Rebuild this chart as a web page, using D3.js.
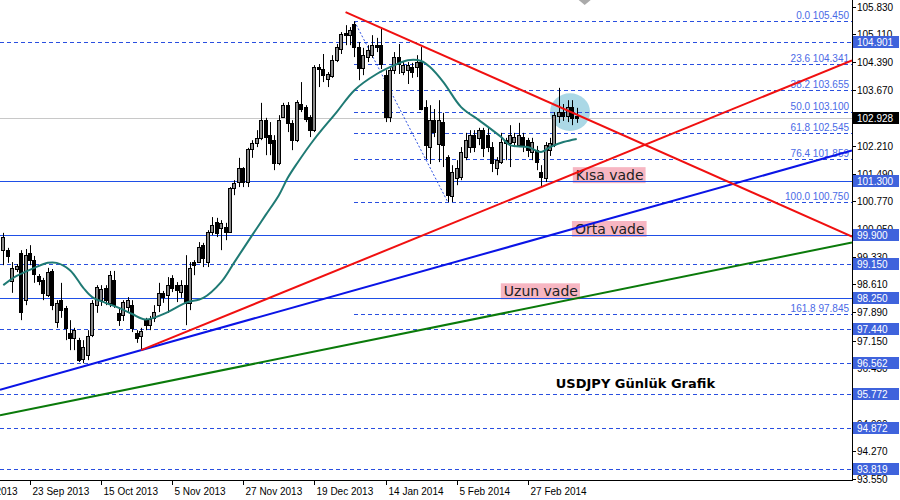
<!DOCTYPE html>
<html><head><meta charset="utf-8">
<script src="https://cdn.jsdelivr.net/npm/d3@7"></script>
<style>html,body{margin:0;padding:0;background:#fff;}svg{display:block;}</style>
</head><body><svg id="c" width="900" height="500"></svg>
<script>
// ---- DATA (USDJPY daily) ----
const opens = [99.50,99.50,98.70,99.01,99.43,98.20,99.43,99.24,98.83,98.72,
98.33,98.96,97.63,98.20,98.00,97.35,97.22,97.16,96.67,96.77,
97.29,98.07,98.20,98.52,98.13,98.72,97.87,97.81,98.02,98.07,
97.35,97.27,97.68,97.55,97.74,98.07,98.39,98.33,98.78,98.59,
98.41,98.59,98.13,99.19,99.19,99.63,99.19,99.97,100.23,100.08,
100.10,99.97,101.12,101.27,101.64,101.27,102.13,102.29,102.42,102.88,
102.49,102.36,101.77,102.96,103.27,102.81,102.36,103.30,103.22,102.96,
102.62,104.26,104.21,103.95,104.03,104.44,104.73,105.15,105.09,105.38,
104.78,104.24,104.52,104.57,104.83,104.83,104.05,102.96,104.18,104.52,
104.13,104.18,104.26,104.26,104.39,103.22,102.18,102.88,102.26,102.83,
101.92,100.91,101.38,101.40,101.92,102.18,102.49,102.42,102.62,102.49,
102.18,101.64,101.79,102.36,102.29,102.31,102.23,102.44,102.36,102.05,
102.10,101.53,101.38,102.10,102.23,102.99,103.09,102.99,103.22,102.99];
const highs = [99.95,99.56,99.19,99.14,99.50,99.53,99.63,99.35,98.88,98.78,
99.04,99.01,98.20,98.65,98.05,97.68,97.48,97.22,97.16,97.42,
98.20,98.59,98.59,98.59,98.96,98.96,98.00,98.20,98.28,98.20,
97.42,97.48,97.74,97.79,98.07,98.65,98.44,98.80,98.85,98.67,
98.72,99.37,99.19,99.24,99.71,99.69,100.02,100.36,100.34,100.28,
100.21,101.14,101.32,101.90,101.66,102.16,102.36,102.62,103.33,102.94,
102.83,102.49,103.01,103.33,103.35,102.88,103.40,103.87,103.27,103.01,
104.31,104.34,104.60,104.13,104.57,104.86,105.17,105.35,105.30,105.45,
104.91,104.76,104.83,105.09,105.02,105.25,104.18,104.24,104.65,104.86,
104.39,104.39,104.37,104.57,104.78,103.40,103.27,103.17,103.40,103.07,
101.97,101.71,101.84,102.18,102.55,102.62,102.62,102.68,102.68,102.70,
102.31,101.92,102.55,102.42,102.75,102.55,102.81,102.55,102.42,102.42,
102.21,101.71,102.31,102.42,103.09,103.72,103.30,103.40,103.40,103.20];
const lows = [99.11,99.17,98.39,98.93,97.68,98.07,99.11,98.65,98.59,98.20,
98.28,97.94,97.48,97.74,97.16,96.90,96.90,96.59,96.56,96.64,
97.24,97.87,98.05,98.07,98.02,98.00,97.53,97.66,97.89,97.37,
97.09,96.90,97.42,97.42,97.63,97.89,98.13,97.87,98.41,98.15,
98.26,97.55,97.94,98.85,99.17,99.06,99.06,99.89,99.84,99.50,
99.76,99.95,100.93,101.14,101.14,101.14,101.90,102.18,102.36,101.97,
101.97,101.58,101.71,102.94,102.57,102.10,102.31,103.09,102.83,102.44,
102.57,103.74,103.87,103.74,103.98,104.39,104.60,104.83,104.83,104.52,
103.92,104.05,104.39,104.50,104.65,104.21,102.83,102.83,104.08,104.08,
104.05,103.82,103.98,104.00,103.14,101.87,101.74,102.44,101.79,101.66,
100.75,100.75,101.19,101.32,101.84,102.03,102.05,102.23,101.92,102.05,
101.53,101.45,101.74,101.84,101.66,102.18,102.18,102.05,101.92,101.84,
101.58,101.14,101.27,101.95,102.18,102.81,102.86,102.83,102.75,102.81];
const closes = [99.84,99.35,99.04,99.09,97.89,99.37,99.24,98.88,98.70,98.39,
98.93,98.07,98.13,97.94,97.48,97.22,97.42,96.64,96.98,97.27,
98.13,98.54,98.49,98.20,98.85,98.07,97.68,98.15,98.20,97.48,
97.22,97.40,97.55,97.71,97.89,98.39,98.28,98.59,98.52,98.46,
98.59,98.13,99.04,99.11,99.58,99.30,99.97,100.15,99.95,100.21,
99.97,101.12,101.25,101.64,101.27,102.13,102.29,102.42,102.88,102.44,
102.29,101.77,102.88,103.27,102.81,102.36,103.35,103.17,102.91,102.62,
104.26,104.21,104.05,104.08,104.44,104.78,105.12,105.09,105.22,104.78,
104.24,104.57,104.70,104.83,104.78,104.34,102.96,104.18,104.52,104.34,
104.31,104.31,104.13,104.39,103.17,102.23,102.88,102.57,102.88,102.23,
100.93,101.53,101.64,102.05,102.36,102.49,102.18,102.62,102.16,102.18,
101.77,101.84,102.31,102.29,102.49,102.44,102.49,102.23,102.10,102.31,
101.79,101.40,102.23,102.29,103.01,103.09,102.99,103.22,102.94,102.928];

// moving average (teal), read at selected bars
const maBars   = [0,3,7,10,12,15,18,20,23,26,29,32,37,41,45,49,52,56,59,62,64,66,70,75,79,84,88,91,94,96,99,103,107,112,114,118,121,123,126,129];
const maValues = [98.59,98.83,99.04,99.17,99.17,98.98,98.52,98.28,98.13,98.00,97.84,97.70,97.89,98.13,98.26,98.67,99.19,99.89,100.41,100.93,101.38,101.74,102.39,103.09,103.66,104.08,104.31,104.44,104.42,104.26,103.87,103.22,102.88,102.44,102.23,102.18,102.05,102.18,102.31,102.39];

// axes
const priceTicks = [105.830,105.110,104.390,103.670,102.940,102.210,101.490,100.770,100.050,99.330,98.610,97.890,97.150,96.430,95.710,94.990,94.270,93.550];
const dateTickBars = [-10,6,22,38,54,70,86,102,118];
const dateTickLabels = ["30 Aug 2013","23 Sep 2013","15 Oct 2013","5 Nov 2013","27 Nov 2013","19 Dec 2013","14 Jan 2014","5 Feb 2014","27 Feb 2014"];

// horizontal support/resistance levels
const levelValues = [104.901,101.300,99.900,99.150,98.250,97.440,96.562,95.772,94.872,93.819];
const levelSolid  = [false,true,true,false,true,false,false,false,false,false];
const currentPrice = 102.928;

// fibonacci retracement
const fibLevels = [0.0,23.6,38.2,50.0,61.8,76.4,100.0,161.8];
const fibPrices = [105.450,104.341,103.655,103.100,102.545,101.859,100.750,97.845];
const fibFromBar = 79, fibToBar = 100;

// trend lines: [bar1, price1, bar2, price2]
const trendRedDown = [77,105.69,126,103.18];
const trendRedUp   = [31,96.90,121,101.14];
const trendBlue    = [31,96.90,121,99.82];
const trendGreen   = [31,95.95,121,98.06];

// annotations
const noteTexts  = ["Kısa vade","Orta vade","Uzun vade"];
const noteBars   = [128.8,128.6,112.6];
const notePrices = [101.32,99.92,98.30];
const titleText = "USDJPY Günlük Grafik", titleBar = 124.3, titlePrice = 95.92;
const circleBar = 127.5, circlePrice = 103.09, circleBars = 4.5, circlePriceR = 0.49;

// ---- DRAWING ----
const svg = d3.select("#c");
const plotR = 852, plotB = 480;
const x = d3.scaleLinear().domain([0,129]).range([3.3, 3.3+129*4.445]);
const y = d3.scaleLinear().domain([93.55,105.83]).range([479,6.7]);
const FONT = "'Liberation Sans', Arial, sans-serif";
const VFONT = "'DejaVu Sans', Verdana, sans-serif";

svg.append("rect").attr("width",900).attr("height",500).attr("fill","#fff");
svg.append("defs").append("clipPath").attr("id","plot").append("rect")
  .attr("x",0).attr("y",0).attr("width",plotR).attr("height",plotB);
const g = svg.append("g").attr("clip-path","url(#plot)");
const py = v => Math.round(y(v)) + 0.5;

// circle highlight
g.append("ellipse").attr("cx",x(circleBar)).attr("cy",y(circlePrice))
  .attr("rx",x(circleBar+circleBars)-x(circleBar)).attr("ry",y(circlePrice-circlePriceR)-y(circlePrice))
  .attr("fill","#abd8e6");

// annotation backgrounds + text
const notes = g.append("g");
noteTexts.forEach((t,i)=>{
  const tg = notes.append("g");
  const tx = tg.append("text").attr("x",x(noteBars[i])).attr("y",y(notePrices[i]))
    .attr("font-family",VFONT).attr("font-size",14).attr("fill","#222").text(t);
  const bb = tx.node().getBBox();
  tg.insert("rect","text").attr("x",bb.x-3).attr("y",bb.y).attr("width",bb.width+5).attr("height",bb.height)
    .attr("fill","#f7b6c2");
});

// current price line
g.append("line").attr("x1",0).attr("x2",plotR).attr("y1",py(currentPrice)).attr("y2",py(currentPrice))
  .attr("stroke","#c8c8c8").attr("stroke-width",1);

// horizontal levels
levelValues.forEach((v,i)=>{
  g.append("line").attr("x1",0).attr("x2",plotR).attr("y1",py(v)).attr("y2",py(v))
    .attr("stroke", levelSolid[i] ? "#1f4fe6" : "#2a4fe0").attr("stroke-width",1)
    .attr("stroke-dasharray", levelSolid[i] ? null : "4,3");
});

// fib lines
fibPrices.forEach((p,i)=>{
  g.append("line").attr("x1",Math.round(x(fibFromBar))).attr("x2",plotR).attr("y1",py(p)).attr("y2",py(p))
    .attr("stroke","#2a4fe0").attr("stroke-width",1).attr("stroke-dasharray","4,3");
  g.append("text").attr("x",849).attr("y",py(p)-3).attr("text-anchor","end")
    .attr("font-family",FONT).attr("font-size",10).attr("fill","#4a6ae6")
    .text(fibLevels[i].toFixed(1)+" "+p.toFixed(3));
});
g.append("line").attr("x1",x(fibFromBar)).attr("y1",y(fibPrices[0]))
  .attr("x2",x(fibToBar)).attr("y2",y(fibPrices[6]))
  .attr("stroke","#2a4fe0").attr("stroke-width",1).attr("stroke-dasharray","2,2");

// candles
const cg = g.append("g");
opens.forEach((o,i)=>{
  const c = closes[i], cx = Math.round(x(i));
  cg.append("line").attr("x1",cx+0.5).attr("x2",cx+0.5).attr("y1",y(highs[i])).attr("y2",y(lows[i]))
    .attr("stroke","#000").attr("stroke-width",1);
  const top = Math.round(y(Math.max(o,c))), bot = Math.round(y(Math.min(o,c)));
  cg.append("rect").attr("x",cx-1.5).attr("y",top+0.5).attr("width",3).attr("height",Math.max(bot-top,1))
    .attr("fill", c>=o ? "#8a8a8a" : "#000").attr("stroke","#000").attr("stroke-width",1);
});

// moving average
g.append("path").datum(maBars.map((b,i)=>[b,maValues[i]]))
  .attr("d", d3.line().x(d=>x(d[0])).y(d=>y(d[1])).curve(d3.curveCatmullRom.alpha(0.5)))
  .attr("fill","none").attr("stroke","#1f7a74").attr("stroke-width",2);

// trend lines
function trend(t, color, extendLeft){
  const [b1,p1,b2,p2] = t;
  const at = b => p1 + (p2-p1)*(b-b1)/(b2-b1);
  const bl = extendLeft ? x.invert(0) : b1, br = x.invert(plotR);
  g.append("line").attr("x1",x(bl)).attr("y1",y(at(bl))).attr("x2",x(br)).attr("y2",y(at(br)))
    .attr("stroke",color).attr("stroke-width",2);
}
trend(trendGreen,"#0a7a0a",true);
trend(trendBlue,"#0a14e6",true);
trend(trendRedUp,"#f01010",false);
trend(trendRedDown,"#f01010",false);

// title
g.append("text").attr("x",x(titleBar)).attr("y",y(titlePrice)).attr("font-family",VFONT)
  .attr("font-size",13).attr("font-weight","bold").attr("fill","#000").text(titleText);

// chart-shift marker
svg.append("path").attr("d",d3.line()([[x(129)+2,0],[x(129)+14,0],[x(129)+8,5]])).attr("fill","#aaa");

// frame
svg.append("line").attr("x1",plotR+0.5).attr("x2",plotR+0.5).attr("y1",0).attr("y2",plotB+1).attr("stroke","#000");
svg.append("line").attr("x1",0).attr("x2",plotR+1).attr("y1",plotB+0.5).attr("y2",plotB+0.5).attr("stroke","#000");

// right axis ticks
priceTicks.forEach(v=>{
  svg.append("line").attr("x1",plotR+1).attr("x2",plotR+4).attr("y1",py(v)).attr("y2",py(v)).attr("stroke","#000");
  svg.append("text").attr("x",plotR+5).attr("y",py(v)).attr("dy","0.35em")
    .attr("font-family",FONT).attr("font-size",10).attr("fill","#000").text(v.toFixed(3));
});
// level labels on axis
function axisBox(v, fill){
  const yy = Math.round(y(v));
  svg.append("rect").attr("x",plotR+1).attr("y",yy-6).attr("width",46).attr("height",12).attr("fill",fill);
  svg.append("text").attr("x",plotR+5).attr("y",yy).attr("dy","0.35em")
    .attr("font-family",FONT).attr("font-size",10).attr("fill","#fff").text(v.toFixed(3));
}
levelValues.forEach(v=>axisBox(v,"#3f63dc"));
axisBox(currentPrice,"#000");

// bottom axis
dateTickBars.forEach((b,i)=>{
  const xx = Math.round(x(b))+0.5;
  svg.append("line").attr("x1",xx).attr("x2",xx).attr("y1",plotB+1).attr("y2",plotB+5).attr("stroke","#000");
  svg.append("text").attr("x",xx+2).attr("y",plotB+15).attr("font-family",FONT).attr("font-size",10)
    .attr("fill","#000").text(dateTickLabels[i]);
});
</script></body></html>
